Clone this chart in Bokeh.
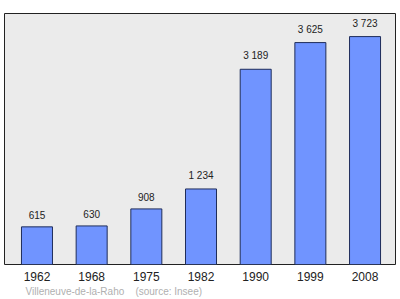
from bokeh.plotting import figure
from bokeh.models import ColumnDataSource, Range1d, FixedTicker, Title
from bokeh.core.properties import value
from bokeh.embed import file_html
from bokeh.resources import INLINE

years = ["1962", "1968", "1975", "1982", "1990", "1999", "2008"]
population = [615, 630, 908, 1234, 3189, 3625, 3723]
value_labels = ["615", "630", "908", "1 234", "3 189", "3 625", "3 723"]
source_text = "Villeneuve-de-la-Raho\u00a0\u00a0\u00a0\u00a0(source: Insee)"

xs = list(range(len(years)))
src = ColumnDataSource(dict(x=xs, top=population, lab=value_labels))

p = figure(width=400, height=299, output_backend="svg", toolbar_location=None,
           x_range=Range1d(-0.594, 6.557), y_range=Range1d(0, 4100),
           min_border_left=4, min_border_right=5, min_border_top=13, min_border_bottom=35)
p.background_fill_color = "#ebebeb"
p.border_fill_color = "white"
p.outline_line_color = "#222222"
p.outline_line_width = 1
p.grid.visible = False
p.yaxis.visible = False

p.vbar(x="x", top="top", bottom=0, width=0.567, source=src,
       fill_color="#7094ff", line_color="#1f2d5a", line_width=1)
p.text(x="x", y="top", text="lab", source=src, text_align="center",
       text_baseline="bottom", y_offset=-8, text_font=value("Liberation Sans"),
       text_font_size="10px", text_color="#222222")

p.xaxis.ticker = FixedTicker(ticks=xs)
p.xaxis.major_label_overrides = {i: y for i, y in zip(xs, years)}
p.xaxis.axis_line_color = None
p.xaxis.major_tick_line_color = None
p.xaxis.minor_tick_line_color = None
p.xaxis.major_label_text_font = "Liberation Sans"
p.xaxis.major_label_text_font_size = "12px"
p.xaxis.major_label_text_color = "#222222"
p.xaxis.major_label_standoff = 1

t = Title(text=source_text, align="left", offset=21, standoff=0,
          text_font="Liberation Sans", text_font_size="10px",
          text_font_style="normal", text_color="#b0b0b0")
p.add_layout(t, "below")

open("out.html", "w").write(file_html(p, INLINE))
